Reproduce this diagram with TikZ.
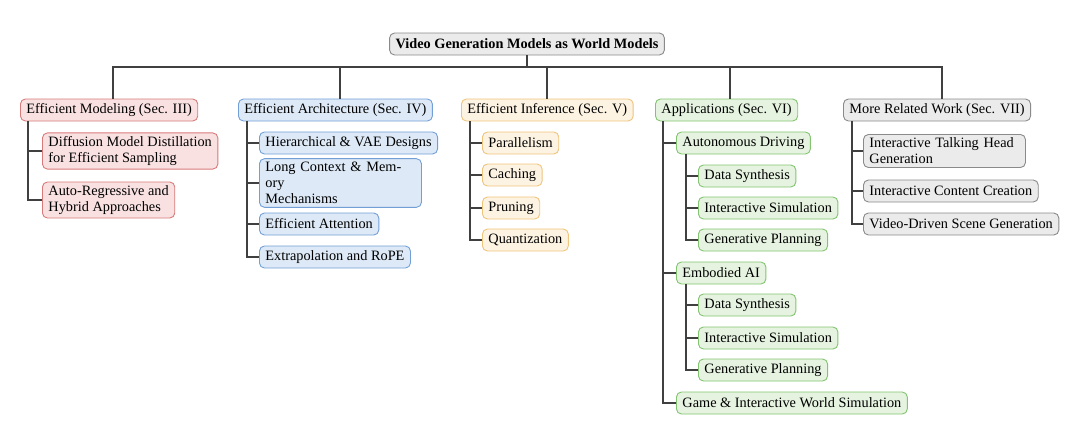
\documentclass[tikz,border=0pt]{standalone}
\usepackage{fontspec}
\setmainfont{Liberation Serif}
\definecolor{rf}{HTML}{F9E1E1}\definecolor{rd}{HTML}{D77A7A}
\definecolor{bf}{HTML}{DDE9F6}\definecolor{bd}{HTML}{72A0D6}
\definecolor{of}{HTML}{FDF3E2}\definecolor{od}{HTML}{EFC47D}
\definecolor{gf}{HTML}{E5F3E0}\definecolor{gd}{HTML}{82C46F}
\definecolor{yf}{HTML}{EBEBEB}\definecolor{yd}{HTML}{8A8A8A}
\begin{document}
\begin{tikzpicture}[x=1pt,y=-1pt,
  box/.style={draw,rounded corners=5pt,line width=0.9pt,font=\fontsize{14.3}{16}\selectfont,inner xsep=6pt,inner ysep=3.5pt,anchor=west,align=left,minimum height=22pt},
  red/.style={box,draw=rd,fill=rf},
  blu/.style={box,draw=bd,fill=bf},
  org/.style={box,draw=od,fill=of},
  grn/.style={box,draw=gd,fill=gf},
  gry/.style={box,draw=yd,fill=yf},
  ln/.style={line width=1.2pt,draw=black!75}]
\useasboundingbox (0,0) rectangle (1080,432);
\node[gry,anchor=center,font=\fontsize{14.3}{16}\selectfont\bfseries] (root) at (527,44) {Video Generation Models as World Models};
\node[red] (EM) at (20,110) {Efficient Modeling (Sec. III)};
\node[blu] (EA) at (238,110) {Efficient Architecture (Sec. IV)};
\node[org] (EI) at (461,110) {Efficient Inference (Sec. V)};
\node[grn] (AP) at (655,110) {Applications (Sec. VI)};
\node[gry] (MR) at (843,110) {More Related Work (Sec. VII)};
\foreach \n/\xx in {EM/113,EA/340,EI/547,AP/730,MR/942}{
  \coordinate (b) at (\xx,67);
  \draw[ln] (root.south) |- (b) -- (b |- \n.north);}
% EM
\node[red] (em1) at (42,151) {Diffusion Model Distillation\\for Efficient Sampling};
\node[red] (em2) at (42,200) {Auto-Regressive and\\Hybrid Approaches};
\foreach \c in {em1,em2} \draw[ln] ([xshift=8pt]EM.south west) |- (\c.west);
% EA
\node[blu] (ea1) at (259,143) {Hierarchical \& VAE Designs};
\node[blu,text width=150pt] (ea2) at (259,183) {Long Context \& Memory\\Mechanisms};
\node[blu] (ea3) at (259,224) {Efficient Attention};
\node[blu] (ea4) at (259,257) {Extrapolation and RoPE};
\foreach \c in {ea1,ea2,ea3,ea4} \draw[ln] ([xshift=9pt]EA.south west) |- (\c.west);
% EI
\node[org] (ei1) at (482,143) {Parallelism};
\node[org] (ei2) at (482,175) {Caching};
\node[org] (ei3) at (482,208) {Pruning};
\node[org] (ei4) at (482,240) {Quantization};
\foreach \c in {ei1,ei2,ei3,ei4} \draw[ln] ([xshift=9pt]EI.south west) |- (\c.west);
% AP
\node[grn] (ad) at (676,143) {Autonomous Driving};
\node[grn] (ad1) at (698,176) {Data Synthesis};
\node[grn] (ad2) at (698,208) {Interactive Simulation};
\node[grn] (ad3) at (698,240) {Generative Planning};
\node[grn] (eb) at (676,273) {Embodied AI};
\node[grn] (eb1) at (698,305) {Data Synthesis};
\node[grn] (eb2) at (698,338) {Interactive Simulation};
\node[grn] (eb3) at (698,370) {Generative Planning};
\node[grn] (gm) at (676,403) {Game \& Interactive World Simulation};
\foreach \c in {ad,eb,gm} \draw[ln] ([xshift=8pt]AP.south west) |- (\c.west);
\foreach \c in {ad1,ad2,ad3} \draw[ln] ([xshift=10pt]ad.south west) |- (\c.west);
\foreach \c in {eb1,eb2,eb3} \draw[ln] ([xshift=10pt]eb.south west) |- (\c.west);
% MR
\node[gry,text width=150pt] (mr1) at (863,151) {Interactive Talking Head\\Generation};
\node[gry] (mr2) at (863,191) {Interactive Content Creation};
\node[gry] (mr3) at (863,224) {Video-Driven Scene Generation};
\foreach \c in {mr1,mr2,mr3} \draw[ln] ([xshift=9pt]MR.south west) |- (\c.west);
\end{tikzpicture}
\end{document}
